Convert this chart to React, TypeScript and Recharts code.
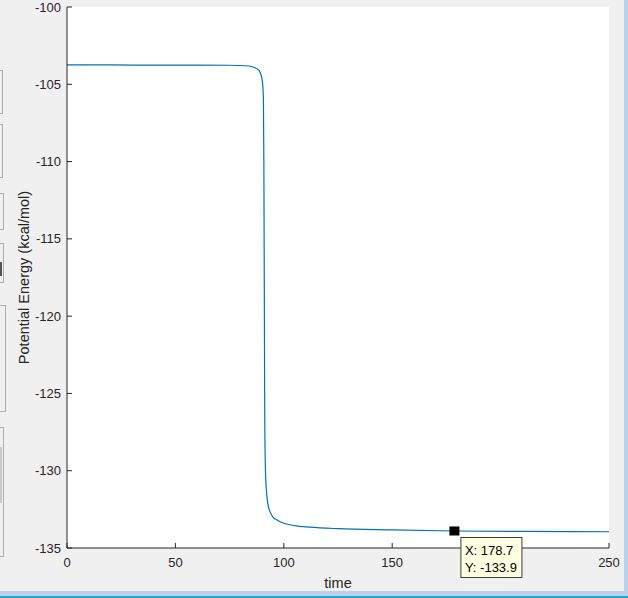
import React from 'react';
import { LineChart, Line, XAxis, YAxis, CartesianGrid, ReferenceDot, Label } from 'recharts';

const timeValues = [0, 20, 40, 60, 75, 82, 85, 87, 88.5, 89.5, 90.2, 90.6, 90.8, 91.0, 91.2, 91.5, 92.0, 92.6, 93.5, 95.0, 97.0, 100, 105, 112, 125, 150, 178.7, 210, 250];
const energyValues = [-103.75, -103.75, -103.76, -103.76, -103.77, -103.8, -103.85, -103.95, -104.1, -104.4, -104.9, -106, -110, -118, -126, -129.8, -131.3, -132.1, -132.6, -133.0, -133.2, -133.4, -133.55, -133.65, -133.75, -133.83, -133.9, -133.93, -133.95];

const xTicks = [0, 50, 100, 150, 200, 250];
const yTicks = [-135, -130, -125, -120, -115, -110, -105, -100];

const markerX = 178.7;
const markerY = -133.9;

const xLabel = 'time';
const yLabel = 'Potential Energy (kcal/mol)';

const data = timeValues.map((t, i) => ({ t, e: energyValues[i] }));

const AX = '#262626';
const FONT = '"Liberation Sans", Arial, sans-serif';

const BottomTick = (props: any) => {
  const { x, y, payload } = props;
  return (
    <g>
      <line x1={x} y1={y} x2={x} y2={y - 5} stroke={AX} strokeWidth={1} />
      <text x={x} y={y + 14} dy="0.355em" textAnchor="middle" fontSize={13} fill={AX} fontFamily={FONT}>
        {payload.value}
      </text>
    </g>
  );
};

const TopTick = (props: any) => {
  const { x, y } = props;
  return <line x1={x} y1={y} x2={x} y2={y + 5} stroke={AX} strokeWidth={1} />;
};

const LeftTick = (props: any) => {
  const { x, y, payload } = props;
  return (
    <g>
      <line x1={x} y1={y} x2={x + 5} y2={y} stroke={AX} strokeWidth={1} />
      <text x={x - 6} y={y} dy="0.355em" textAnchor="end" fontSize={13} fill={AX} fontFamily={FONT}>
        {payload.value}
      </text>
    </g>
  );
};

const RightTick = (props: any) => {
  const { x, y } = props;
  return <line x1={x} y1={y} x2={x - 5} y2={y} stroke={AX} strokeWidth={1} />;
};

const MarkerShape = (props: any) => {
  const { cx, cy } = props;
  const bx = cx + 6.5;
  const by = cy + 6.5;
  return (
    <g>
      <rect x={cx - 5} y={cy - 4.5} width={10} height={9} fill="#000" />
      <rect x={bx} y={by} width={61} height={40} fill="#ffffe1" stroke="#3c3c3c" strokeWidth={1} />
      <text x={bx + 4} y={by + 18} fontSize={13} fill="#000" fontFamily={FONT}>{`X: ${markerX}`}</text>
      <text x={bx + 4} y={by + 34.5} fontSize={13} fill="#000" fontFamily={FONT}>{`Y: ${markerY}`}</text>
    </g>
  );
};

const YLabelContent = (props: any) => {
  const vb = props.viewBox || { x: 0, y: 7, width: 67, height: 541 };
  const cx = 24;
  const cy = vb.y + vb.height / 2;
  return (
    <text x={cx} y={cy} dy="0.355em" textAnchor="middle" transform={`rotate(-90, ${cx}, ${cy})`} fontSize={14.5} fill={AX} fontFamily={FONT}>
      {yLabel}
    </text>
  );
};

const XLabelContent = (props: any) => {
  const vb = props.viewBox || { x: 67, y: 548, width: 542, height: 50 };
  const cx = vb.x + vb.width / 2;
  return (
    <text x={cx} y={583} dy="0.355em" textAnchor="middle" fontSize={14.5} fill={AX} fontFamily={FONT}>
      {xLabel}
    </text>
  );
};

const leftBoxes = [
  { top: 70, h: 44, w: 3 },
  { top: 124, h: 54, w: 3 },
  { top: 193, h: 37, w: 4 },
  { top: 243, h: 40, w: 4 },
  { top: 305, h: 107, w: 6 },
  { top: 427, h: 130, w: 4 },
];

export default function App() {
  return (
    <div style={{ position: 'absolute', left: 0, top: 0, width: 628, height: 598, background: '#f0f0f0', overflow: 'hidden' }}>
      {leftBoxes.map((b, i) => (
        <div key={i} style={{ position: 'absolute', left: -2, top: b.top, width: b.w + 2, height: b.h, border: '1px solid #adadad', boxSizing: 'border-box', background: '#f0f0f0' }} />
      ))}
      <div style={{ position: 'absolute', left: 0, top: 262, width: 2, height: 14, background: '#555' }} />
      <div style={{ position: 'absolute', left: 0, top: 447, width: 2, height: 56, background: '#c8c8c8' }} />
      <div style={{ position: 'absolute', left: 624, top: 0, width: 4, height: 598, background: '#b9d1ea' }} />
      <div style={{ position: 'absolute', left: 0, top: 591, width: 628, height: 5, background: '#b9d1ea' }} />
      <div style={{ position: 'absolute', left: 0, top: 596, width: 628, height: 2, background: '#1fa8c8' }} />
      <div style={{ position: 'absolute', left: 0, top: 0 }}>
        <LineChart width={628} height={598} data={data} margin={{ top: 7, right: 19, bottom: 0, left: 0 }}>
          <CartesianGrid horizontal={false} vertical={false} fill="#ffffff" />
          <XAxis
            xAxisId="b"
            dataKey="t"
            type="number"
            domain={[0, 250]}
            ticks={xTicks}
            interval={0}
            height={50}
            axisLine={{ stroke: AX, strokeWidth: 1 }}
            tickLine={false}
            tickSize={0}
            tickMargin={0}
            tick={<BottomTick />}
          >
            <Label content={<XLabelContent />} />
          </XAxis>
          <XAxis
            xAxisId="tp"
            orientation="top"
            dataKey="t"
            type="number"
            domain={[0, 250]}
            ticks={xTicks}
            interval={0}
            height={0}
            axisLine={{ stroke: AX, strokeWidth: 1 }}
            tickLine={false}
            tickSize={0}
            tickMargin={0}
            tick={<TopTick />}
          />
          <YAxis
            yAxisId="l"
            type="number"
            domain={[-135, -100]}
            ticks={yTicks}
            interval={0}
            width={67}
            axisLine={{ stroke: AX, strokeWidth: 1 }}
            tickLine={false}
            tickSize={0}
            tickMargin={0}
            tick={<LeftTick />}
          >
            <Label content={<YLabelContent />} />
          </YAxis>
          <YAxis
            yAxisId="r"
            orientation="right"
            type="number"
            domain={[-135, -100]}
            ticks={yTicks}
            interval={0}
            width={0}
            axisLine={{ stroke: AX, strokeWidth: 1 }}
            tickLine={false}
            tickSize={0}
            tickMargin={0}
            tick={<RightTick />}
          />
          <Line
            xAxisId="b"
            yAxisId="l"
            type="monotone"
            dataKey="e"
            stroke="#0072BD"
            strokeWidth={1.2}
            dot={false}
            activeDot={false}
            isAnimationActive={false}
          />
          <ReferenceDot
            {...({ zIndex: 5000 } as any)}
            xAxisId="b"
            yAxisId="l"
            x={markerX}
            y={markerY}
            shape={<MarkerShape />}
            ifOverflow="visible"
          />
        </LineChart>
      </div>
    </div>
  );
}
